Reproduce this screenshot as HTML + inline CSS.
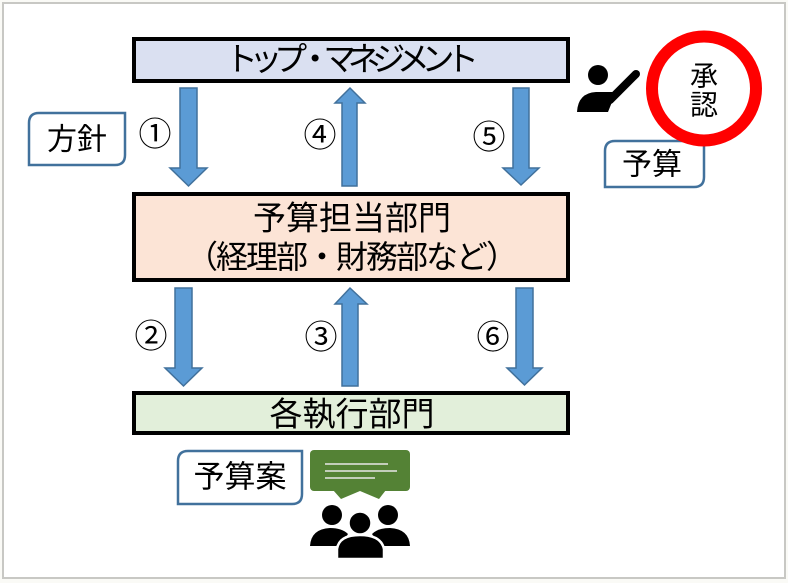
<!DOCTYPE html>
<html><head><meta charset="utf-8"><style>
html,body{margin:0;padding:0;background:#fafaf6;}
svg{display:block;}
text{font-family:"Liberation Sans","Noto Sans CJK JP",sans-serif;fill:#000;}
</style></head><body>
<svg width="788" height="583" viewBox="0 0 788 583" xmlns="http://www.w3.org/2000/svg">
<rect x="3" y="3" width="782" height="575" fill="#ffffff" stroke="#c8c8c4" stroke-width="2"/>

<!-- main boxes -->
<rect x="134" y="39" width="434" height="42" fill="#dae0f1" stroke="#000" stroke-width="4"/>
<text x="352" y="59" font-size="33" textLength="254" lengthAdjust="spacing" text-anchor="middle" dominant-baseline="central" font-family="Noto Sans CJK JP">トップ・マネジメント</text>

<rect x="134" y="194" width="434" height="86" fill="#fce4d6" stroke="#000" stroke-width="4"/>
<text x="352" y="218" font-size="33" text-anchor="middle" dominant-baseline="central" font-family="Noto Sans CJK JP">予算担当部門</text>
<text x="352" y="257" font-size="32" textLength="332" lengthAdjust="spacing" text-anchor="middle" dominant-baseline="central" font-family="Noto Sans CJK JP">（経理部・財務部など）</text>

<rect x="134" y="393" width="434" height="40" fill="#e2efda" stroke="#000" stroke-width="4"/>
<text x="352" y="414" font-size="33" text-anchor="middle" dominant-baseline="central" font-family="Noto Sans CJK JP">各執行部門</text>

<!-- arrows -->
<g fill="#5b9bd5" stroke="#41719c" stroke-width="1.5" stroke-linejoin="miter">
<polygon points="180,88 197,88 197,168 207,168 188.5,186 170,168 180,168"/>
<polygon points="342,186 357,186 357,103 365,103 350,88 335,103 342,103"/>
<polygon points="513,88 529,88 529,168 539,168 521,185 503,168 513,168"/>
<polygon points="175,288 192,288 192,368 202,368 183.5,386 165,368 175,368"/>
<polygon points="342,386 358,386 358,304 367,304 350,288 335,304 342,304"/>
<polygon points="516,288 533,288 533,368 542,368 524.5,385 507,368 516,368"/>
</g>

<!-- circled numbers -->
<g font-size="33" text-anchor="middle" dominant-baseline="central" font-family="Noto Sans CJK JP">
<text x="155" y="134">①</text>
<text x="320" y="135">④</text>
<text x="489" y="137">⑤</text>
<text x="151" y="336">②</text>
<text x="321" y="337">③</text>
<text x="493" y="337">⑥</text>
</g>

<!-- label boxes -->
<g fill="#fff" stroke="#41719c" stroke-width="2.5">
<path d="M39,113 L125,113 L125,155 Q125,165 115,165 L29,165 L29,123 Q29,113 39,113 Z"/>
<path d="M615,141 L704,141 L704,177 Q704,187 694,187 L605,187 L605,151 Q605,141 615,141 Z"/>
<path d="M188,451 L302,451 L302,494 Q302,504 292,504 L178,504 L178,461 Q178,451 188,451 Z"/>
</g>
<text x="77" y="140" font-size="30" text-anchor="middle" dominant-baseline="central" font-family="Noto Sans CJK JP">方針</text>
<text x="652" y="165" font-size="30" text-anchor="middle" dominant-baseline="central" font-family="Noto Sans CJK JP">予算</text>
<text x="240" y="477" font-size="31" text-anchor="middle" dominant-baseline="central" font-family="Noto Sans CJK JP">予算案</text>

<!-- approval circle -->
<circle cx="704" cy="88.5" r="52" fill="#fff" stroke="#ff0000" stroke-width="12"/>
<text x="704" y="76" font-size="28" text-anchor="middle" dominant-baseline="central" font-family="Noto Sans CJK JP">承</text>
<text x="704" y="105" font-size="28" text-anchor="middle" dominant-baseline="central" font-family="Noto Sans CJK JP">認</text>

<!-- person raising hand -->
<circle cx="598" cy="75" r="10" fill="#000"/>
<path d="M577,112 Q578,93 596,92 L616,92 L608,112 Z" fill="#000"/>
<line x1="610" y1="100" x2="636" y2="74" stroke="#000" stroke-width="8" stroke-linecap="round"/>

<!-- speech bubble -->
<rect x="310" y="450" width="100" height="41" rx="4" fill="#548235"/>
<polygon points="333,490 341,499 360,491 379,499 386,490" fill="#548235"/>
<g stroke="#e8e8e8" stroke-width="1.6">
<line x1="325" y1="464" x2="388" y2="464"/>
<line x1="325" y1="471" x2="397" y2="471"/>
<line x1="325" y1="478" x2="375" y2="478"/>
</g>

<!-- group icon -->
<g fill="#000">
<circle cx="332" cy="515" r="10"/>
<circle cx="388" cy="515" r="10"/>
<path d="M310,546 Q311,529 330,528 Q342,528 348,534 L340,546 Z"/>
<path d="M410,546 Q409,529 390,528 Q378,528 372,534 L380,546 Z"/>
<circle cx="360" cy="523" r="11.5" stroke="#fff" stroke-width="2.5"/>
<path d="M337,559 L337,549 Q339,535 360,535 Q381,535 384,549 L384,559 Z" stroke="#fff" stroke-width="2.5"/>
</g>
</svg>
</body></html>
